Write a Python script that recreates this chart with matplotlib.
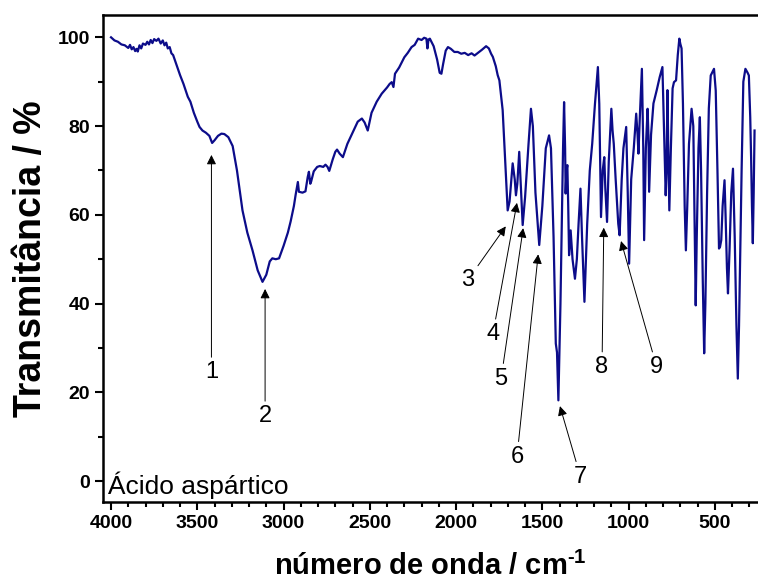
import matplotlib.pyplot as plt
from matplotlib.ticker import MultipleLocator

plt.rcParams['font.family'] = ['Liberation Sans', 'DejaVu Sans']
plt.rcParams['mathtext.fontset'] = 'custom'
plt.rcParams['mathtext.bf'] = 'Liberation Sans:bold'
plt.rcParams['mathtext.rm'] = 'Liberation Sans'

# FTIR spectrum of aspartic acid (wavenumber in cm-1, transmittance in %)
wavenumber = [
    4000, 3980, 3960, 3940, 3920, 3900, 3890, 3880, 3870, 3860, 3852, 3845,
    3835, 3825, 3815, 3800, 3790, 3780, 3770, 3760, 3750, 3737, 3725, 3712,
    3700, 3690, 3680, 3671, 3660, 3650, 3640, 3622, 3600, 3580, 3555, 3540,
    3520, 3500, 3487, 3470, 3450, 3430, 3414, 3400, 3380, 3360, 3343, 3320,
    3295, 3270, 3238, 3210, 3180, 3150, 3122, 3100, 3080, 3065, 3045, 3026,
    3000, 2975, 2959, 2940, 2930, 2917, 2911, 2890, 2873, 2860, 2853, 2845,
    2840, 2825, 2805, 2790, 2770, 2757, 2745, 2735, 2715, 2700, 2690, 2675,
    2656, 2630, 2600, 2570, 2546, 2530, 2512, 2490, 2460, 2431, 2400, 2385,
    2373, 2363, 2354, 2330, 2300, 2280, 2258, 2240, 2220, 2200, 2185, 2172,
    2166, 2160, 2152, 2130, 2110, 2095, 2085, 2075, 2060, 2047, 2030, 2010,
    1990, 1970, 1950, 1930, 1910, 1893, 1870, 1850, 1826, 1810, 1797, 1787,
    1770, 1759, 1749, 1730, 1715, 1701, 1690, 1672, 1660, 1653, 1645, 1634,
    1624, 1614, 1600, 1580, 1566, 1555, 1540, 1518, 1500, 1480, 1461, 1450,
    1435, 1422, 1415, 1407, 1395, 1380, 1374, 1368, 1365, 1360, 1355, 1350,
    1345, 1340, 1336, 1325, 1311, 1300, 1290, 1279, 1270, 1256, 1240, 1225,
    1211, 1195, 1178, 1170, 1160, 1150, 1141, 1135, 1125, 1115, 1100, 1093,
    1086, 1075, 1060, 1052, 1040, 1030, 1014, 1005, 997, 985, 970, 956,
    948, 943, 935, 923, 915, 910, 900, 890, 885, 881, 870, 856,
    837, 820, 804, 795, 785, 780, 775, 770, 764, 755, 745, 737,
    725, 715, 706, 700, 693, 685, 675, 668, 660, 650, 635, 625,
    618, 611, 605, 595, 587, 580, 570, 562, 555, 545, 535, 524,
    505, 495, 485, 476, 470, 463, 455, 444, 438, 430, 424, 415,
    405, 395, 385, 375, 367, 360, 345, 335, 323, 310, 303, 295,
    290, 285, 280, 275, 270,
]
transmittance = [
    100, 99.3, 99, 98.4, 98.2, 97.6, 98.3, 97.3, 97.8, 96.9, 97.4, 96.8,
    98.2, 97.5, 98.6, 98.3, 99.0, 98.4, 99.4, 98.7, 99.6, 99.2, 99.7, 98.6,
    99.3, 98.2, 98.8, 97.5, 97.8, 96.4, 96.0, 94, 91.5, 89.5, 86.6, 85.5,
    83, 81, 79.8, 79, 78.5, 77.8, 76.2, 76.8, 77.8, 78.3, 78.2, 77.5,
    75.5, 70, 61, 56, 52, 47.5, 44.9, 46.5, 49.5, 50.2, 50, 50.2,
    53, 56, 58.5, 62, 64.5, 67.4, 65.2, 65, 65.3, 68.5, 69.7, 67,
    67.5, 69.8, 70.8, 71, 70.8, 71.3, 70.8, 69.9, 72.5, 74.2, 74.7, 73.8,
    73, 76, 78.5, 81, 81.7, 80.8, 79, 83, 85.5, 87.3, 88.7, 89.5,
    89.9, 88.8, 91.8, 93.2, 95.5, 96.5, 97.8, 98.3, 99.7, 99.4, 99.9, 99.7,
    97.5, 99.5, 99.7, 98, 95, 92, 91.8, 94, 97, 97.8, 97.4, 96.7,
    96.7, 96.3, 96.5, 96.0, 96.4, 95.9, 96.6, 97.2, 98, 97.5, 96.3, 95.6,
    93.5, 91.5, 90.3, 83.6, 72, 61, 63, 71.6, 68, 64.4, 67, 74.2,
    66, 57.7, 64, 76, 83.9, 80, 65, 53.2, 62, 75, 77.9, 75,
    55, 31, 29, 18.2, 40, 75, 85.4, 75, 64.8, 70, 71.2, 62,
    50.9, 54, 56.5, 50, 45.6, 50, 58, 65.9, 55, 40.4, 58, 70,
    76, 85, 93.3, 85, 59.5, 70, 73, 66, 58.4, 72, 83.9, 79,
    76, 68, 58, 55.4, 68, 75, 79.8, 65, 49, 68, 75, 82.8,
    78, 73.8, 82, 92.9, 75, 54.3, 75, 83.9, 78, 65.2, 78, 85.1,
    88.1, 91, 93.3, 80, 64.4, 70, 88.1, 75, 61, 75, 88.5, 89.9,
    90.3, 96, 99.7, 98.5, 97.5, 85, 62, 52, 62, 76, 83.9, 80,
    60, 39.6, 55, 75, 82, 70, 45, 28.8, 40, 65, 84, 91.4,
    92.9, 88, 70, 52.4, 52.8, 54.3, 62, 67.8, 60, 48, 42.3, 52,
    65, 70.4, 55, 35, 23.1, 35, 70, 90, 92.9, 92, 91.4, 82,
    73, 62, 53.6, 65, 79,
]

# numbered band labels: (label, label position, arrow tip)
band_labels = ['1', '2', '3', '4', '5', '6', '7', '8', '9']
label_xy = [(3418, 24.5), (3107, 14.6), (1932, 45.3), (1787, 33.1), (1739, 23.1),
            (1647, 5.5), (1279, 1.0), (1154, 25.7), (837, 25.7)]
tip_xy = [(3418, 73.5), (3107, 43.3), (1712, 57.4), (1647, 62.7), (1611, 57.0),
          (1524, 51.1), (1398, 16.9), (1144, 57.1), (1044, 54.1)]

fig = plt.figure(figsize=(7.58, 5.82), dpi=100)
ax = fig.add_axes([0.136, 0.1375, 0.864, 0.8365])

ax.plot(wavenumber, transmittance, color='#0c0c8a', lw=1.6)

for lab, xy_t, xy_p in zip(band_labels, label_xy, tip_xy):
    ax.annotate(lab, xy=xy_p, xytext=xy_t, ha='center', va='center', fontsize=17,
                arrowprops=dict(arrowstyle='-|>', color='black', lw=0.7,
                                mutation_scale=14, shrinkA=1, shrinkB=0))

ax.text(0.007, 0.006, 'Ácido aspártico', transform=ax.transAxes,
        ha='left', va='bottom', fontsize=19)

ax.set_xlim(4046, 250)
ax.set_ylim(-4.7, 105)
ax.xaxis.set_major_locator(MultipleLocator(500))
ax.xaxis.set_minor_locator(MultipleLocator(100))
ax.yaxis.set_major_locator(MultipleLocator(20))
ax.yaxis.set_minor_locator(MultipleLocator(10))
ax.tick_params(which='both', direction='out', width=1.5, top=False, right=False)
ax.tick_params(which='major', length=6, labelsize=14)
ax.tick_params(which='minor', length=3.5)
for t in ax.get_xticklabels() + ax.get_yticklabels():
    t.set_fontweight('bold')

for side in ['left', 'bottom', 'top']:
    ax.spines[side].set_linewidth(1.8)
ax.spines['right'].set_visible(False)

# hyphen (U+2010) instead of the long math minus in the exponent
ax.set_xlabel('número de onda / cm$^{\\mathbf{\u20101}}$', fontsize=21, fontweight='bold', labelpad=14)
ax.set_ylabel('Transmitância / %', fontsize=27, fontweight='bold', labelpad=6)

fig.savefig('out.png', dpi=100)
